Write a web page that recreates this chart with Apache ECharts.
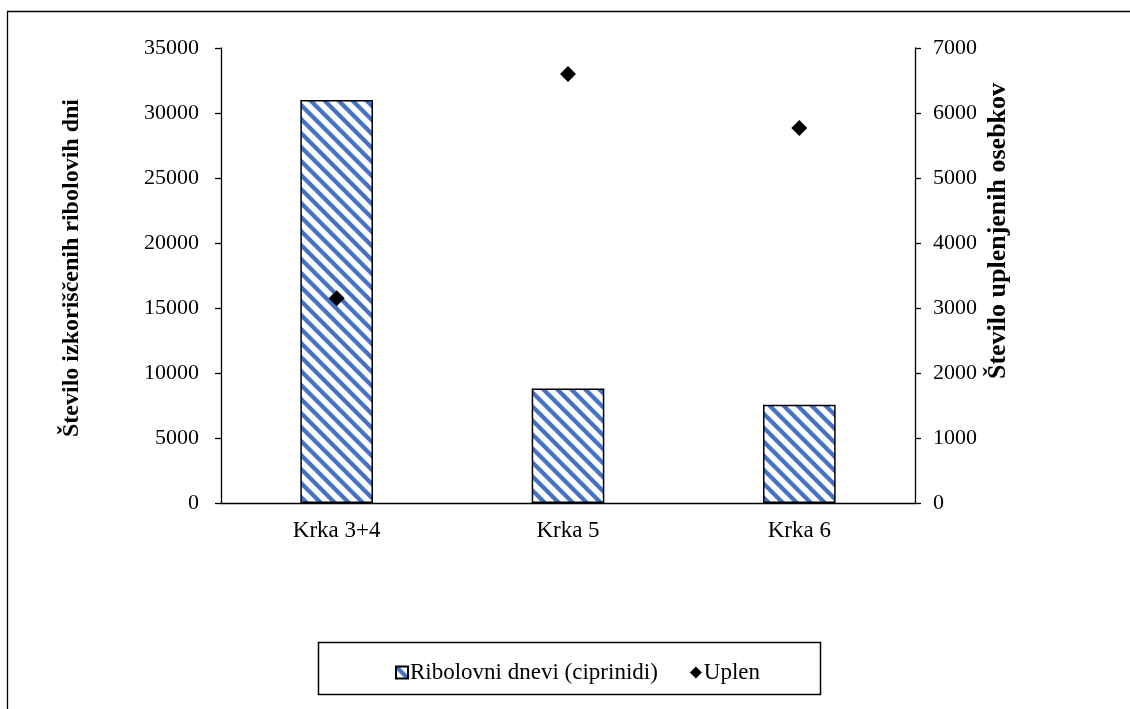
<!DOCTYPE html>
<html>
<head>
<meta charset="utf-8">
<script src="https://cdn.jsdelivr.net/npm/echarts@6/dist/echarts.min.js"></script>
<style>
html,body{margin:0;padding:0;background:#fff;}
#chart{width:1130px;height:709px;}
</style>
</head>
<body>
<div id="chart"></div>
<script>
const categories = ['Krka 3+4', 'Krka 5', 'Krka 6'];
const ribolovniDnevi = [31000, 8800, 7550];
const uplen = [3150, 6600, 5770];
const leftTicks = [0, 5000, 10000, 15000, 20000, 25000, 30000, 35000];
const rightTicks = [0, 1000, 2000, 3000, 4000, 5000, 6000, 7000];
const seriesNames = ['Ribolovni dnevi (ciprinidi)', 'Uplen'];
const leftTitle = 'Število izkoriščenih ribolovih dni';
const rightTitle = 'Število uplenjenih osebkov';

const FONT = '"Liberation Serif", "Times New Roman", serif';

function makePattern() {
  const s = 14;
  const c = document.createElement('canvas');
  c.width = s; c.height = s;
  const g = c.getContext('2d');
  g.fillStyle = '#ffffff';
  g.fillRect(0, 0, s, s);
  g.strokeStyle = '#4472C4';
  g.lineWidth = 4.2;
  for (const o of [-s, 0, s]) {
    g.beginPath();
    g.moveTo(o - 2, -2);
    g.lineTo(o + s + 2, s + 2);
    g.stroke();
  }
  return c;
}
const pattern = { image: makePattern(), repeat: 'repeat' };
const plain = v => String(v);

const chart = echarts.init(document.getElementById('chart'), null, { renderer: 'canvas' });
const option = {
  backgroundColor: '#fff',
  animation: false,
  textStyle: { fontFamily: FONT, color: '#000' },
  grid: { left: 221, right: 215, top: 48, bottom: 206, containLabel: false },
  xAxis: {
    type: 'category',
    data: categories,
    axisLine: { lineStyle: { color: '#000', width: 1.3 } },
    axisTick: { show: false },
    axisLabel: { color: '#000', fontFamily: FONT, fontSize: 23, margin: 16 }
  },
  yAxis: [
    {
      type: 'value', min: leftTicks[0], max: leftTicks[leftTicks.length - 1], interval: leftTicks[1] - leftTicks[0],
      axisLine: { show: true, lineStyle: { color: '#000', width: 1.3 } },
      axisTick: { show: true, length: 6, lineStyle: { color: '#000', width: 1.3 } },
      splitLine: { show: false },
      axisLabel: { color: '#000', fontFamily: FONT, fontSize: 22, margin: 22, formatter: plain }
    },
    {
      type: 'value', min: rightTicks[0], max: rightTicks[rightTicks.length - 1], interval: rightTicks[1] - rightTicks[0],
      position: 'right',
      axisLine: { show: true, lineStyle: { color: '#000', width: 1.3 } },
      axisTick: { show: true, length: 6, lineStyle: { color: '#000', width: 1.3 } },
      splitLine: { show: false },
      axisLabel: { color: '#000', fontFamily: FONT, fontSize: 22, margin: 18, formatter: plain }
    }
  ],
  legend: {
    left: 390, top: 656,
    itemGap: 32,
    itemWidth: 12, itemHeight: 12,
    textStyle: { fontFamily: FONT, fontSize: 23, color: '#000', padding: [0, 0, 0, -3] },
    data: [
      { name: seriesNames[0], icon: 'rect' },
      { name: seriesNames[1], icon: 'diamond' }
    ]
  },
  series: [
    {
      name: seriesNames[0],
      type: 'bar',
      data: ribolovniDnevi,
      barWidth: '31.4%',
      itemStyle: { color: pattern, borderColor: '#000', borderWidth: 1.5 }
    },
    {
      name: seriesNames[1],
      type: 'scatter',
      yAxisIndex: 1,
      data: uplen,
      symbol: 'diamond',
      symbolSize: 16,
      itemStyle: { color: '#000', opacity: 1 },
      z: 5
    }
  ],
  graphic: [
    { type: 'rect', shape: { x: 7.5, y: 11.5, width: 1300, height: 900 }, style: { fill: 'none', stroke: '#000', lineWidth: 1.3 }, silent: true },
    { type: 'rect', shape: { x: 318.5, y: 642.5, width: 502, height: 52 }, style: { fill: 'none', stroke: '#000', lineWidth: 1.5 }, silent: true, z: -1 },
    { type: 'text', x: 72, y: 268, rotation: Math.PI / 2, style: { text: leftTitle, font: 'bold 24px ' + FONT, fill: '#000', textAlign: 'center', textVerticalAlign: 'middle' } },
    { type: 'text', x: 998, y: 231, rotation: Math.PI / 2, style: { text: rightTitle, font: 'bold 26px ' + FONT, fill: '#000', textAlign: 'center', textVerticalAlign: 'middle' } }
  ]
};
chart.setOption(option);
</script>
</body>
</html>
